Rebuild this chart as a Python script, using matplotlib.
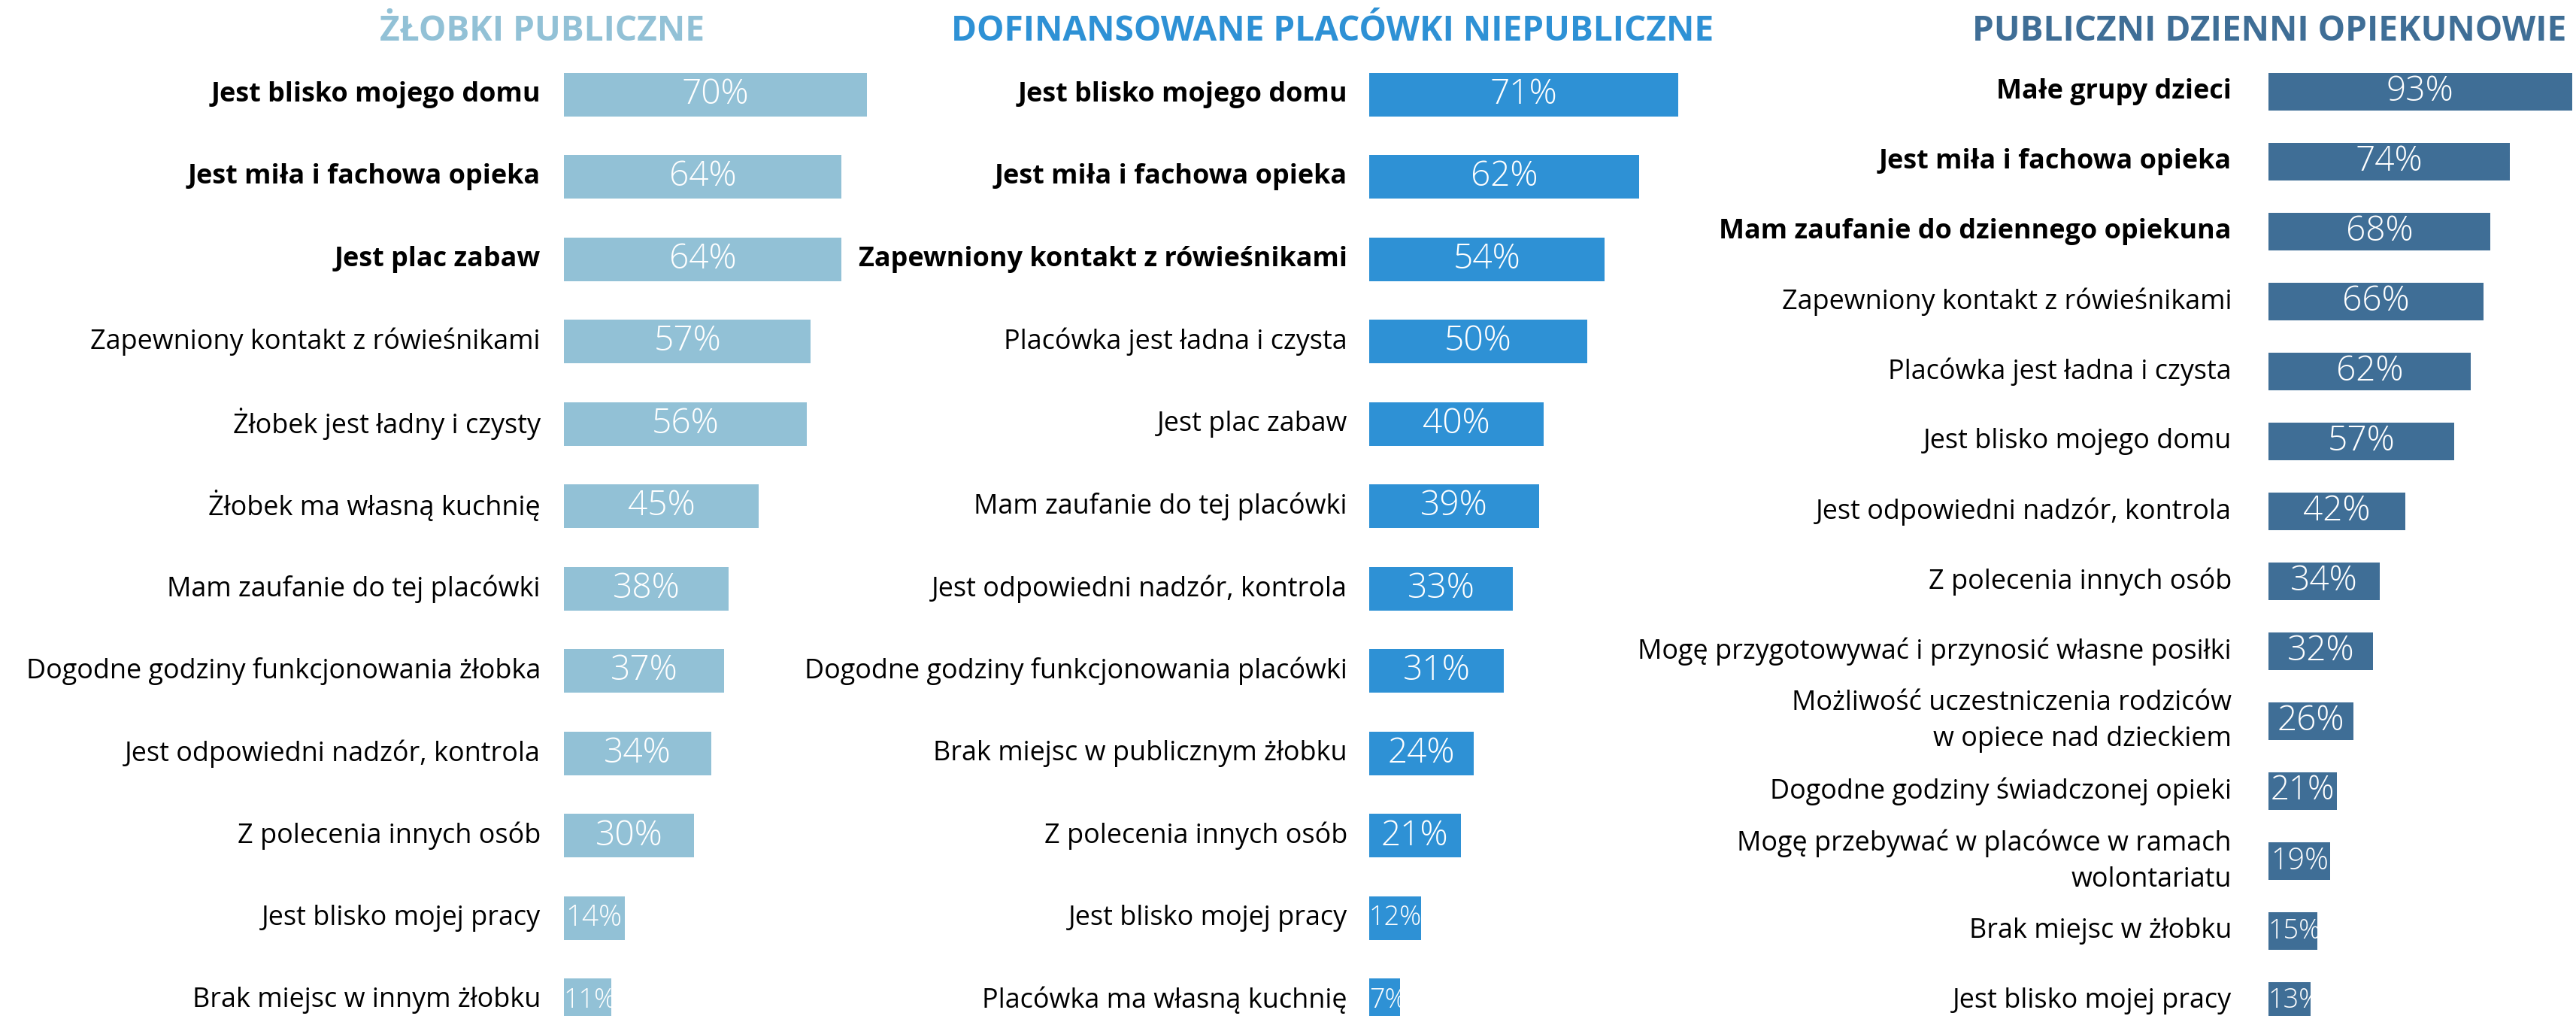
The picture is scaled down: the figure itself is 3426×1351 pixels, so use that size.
import matplotlib.pyplot as plt

plt.rcParams['font.family'] = ['Open Sans', 'DejaVu Sans']

W, H = 3426, 1351
DPI = 100

titles = ["ŻŁOBKI PUBLICZNE", "DOFINANSOWANE PLACÓWKI NIEPUBLICZNE", "PUBLICZNI DZIENNI OPIEKUNOWIE"]
colors = ["#92C1D6", "#2E91D5", "#3F6E96"]

zlobki_labels = [
    "Jest blisko mojego domu",
    "Jest miła i fachowa opieka",
    "Jest plac zabaw",
    "Zapewniony kontakt z rówieśnikami",
    "Żłobek jest ładny i czysty",
    "Żłobek ma własną kuchnię",
    "Mam zaufanie do tej placówki",
    "Dogodne godziny funkcjonowania żłobka",
    "Jest odpowiedni nadzór, kontrola",
    "Z polecenia innych osób",
    "Jest blisko mojej pracy",
    "Brak miejsc w innym żłobku",
]
zlobki_values = [70, 64, 64, 57, 56, 45, 38, 37, 34, 30, 14, 11]

niepubl_labels = [
    "Jest blisko mojego domu",
    "Jest miła i fachowa opieka",
    "Zapewniony kontakt z rówieśnikami",
    "Placówka jest ładna i czysta",
    "Jest plac zabaw",
    "Mam zaufanie do tej placówki",
    "Jest odpowiedni nadzór, kontrola",
    "Dogodne godziny funkcjonowania placówki",
    "Brak miejsc w publicznym żłobku",
    "Z polecenia innych osób",
    "Jest blisko mojej pracy",
    "Placówka ma własną kuchnię",
]
niepubl_values = [71, 62, 54, 50, 40, 39, 33, 31, 24, 21, 12, 7]

opiekun_labels = [
    "Małe grupy dzieci",
    "Jest miła i fachowa opieka",
    "Mam zaufanie do dziennego opiekuna",
    "Zapewniony kontakt z rówieśnikami",
    "Placówka jest ładna i czysta",
    "Jest blisko mojego domu",
    "Jest odpowiedni nadzór, kontrola",
    "Z polecenia innych osób",
    "Mogę przygotowywać i przynosić własne posiłki",
    "Możliwość uczestniczenia rodziców\nw opiece nad dzieckiem",
    "Dogodne godziny świadczonej opieki",
    "Mogę przebywać w placówce w ramach\nwolontariatu",
    "Brak miejsc w żłobku",
    "Jest blisko mojej pracy",
]
opiekun_values = [93, 74, 68, 66, 62, 57, 42, 34, 32, 26, 21, 19, 15, 13]

n_bold = 3

# layout in pixels: bar origin, px per %, first row centre, row pitch, bar height, label gap, title centre
layout = [
    dict(x0=750, scale=5.76, y0=126, pitch=109.5, bar=58, gap=31, tx=721),
    dict(x0=1821, scale=5.79, y0=126, pitch=109.5, bar=58, gap=29, tx=1772),
    dict(x0=3017, scale=4.34, y0=122, pitch=93, bar=50, gap=49, tx=3018),
]
data = [
    (zlobki_labels, zlobki_values),
    (niepubl_labels, niepubl_values),
    (opiekun_labels, opiekun_values),
]

PT = 72 / DPI  # points per pixel

fig = plt.figure(figsize=(W / DPI, H / DPI), dpi=DPI)

for (labels, values), lay, col, title in zip(data, layout, colors, titles):
    x0 = lay['x0']
    ax = fig.add_axes([x0 / W, 0, (W - x0) / W, 1])
    ax.axis('off')
    ax.set_xlim(0, (W - x0) / lay['scale'])
    ax.set_ylim((H - lay['y0']) / lay['pitch'], -lay['y0'] / lay['pitch'])

    ys = list(range(len(values)))
    ax.barh(ys, values, height=lay['bar'] / lay['pitch'], color=col, align='center')

    for i, (lab, v) in enumerate(zip(labels, values)):
        ax.annotate(lab, xy=(0, i), xytext=(-lay['gap'], 0), textcoords='offset pixels',
                    ha='right', va='center', fontsize=36 * PT, linespacing=1.45,
                    fontweight='bold' if i < n_bold else 'normal', color='black')

        txt = f"{v}%"
        em = 0.572 * len(str(v)) + 0.84
        w_px = v * lay['scale']
        size_px = min(46, max(36, (w_px - 4) / em))
        if em * size_px <= w_px:
            ax.text(v / 2, i, txt, ha='center', va='center', color='white',
                    fontsize=size_px * PT, fontweight='light')
        else:
            ax.text(0, i, txt, ha='left', va='center', color='white',
                    fontsize=size_px * PT, fontweight='light')

    fig.text(lay['tx'] / W, 1 - 41 / H, title, ha='center', va='center',
             fontsize=46 * PT, fontweight='bold', color=col)

fig.savefig('out.png', dpi=DPI)
